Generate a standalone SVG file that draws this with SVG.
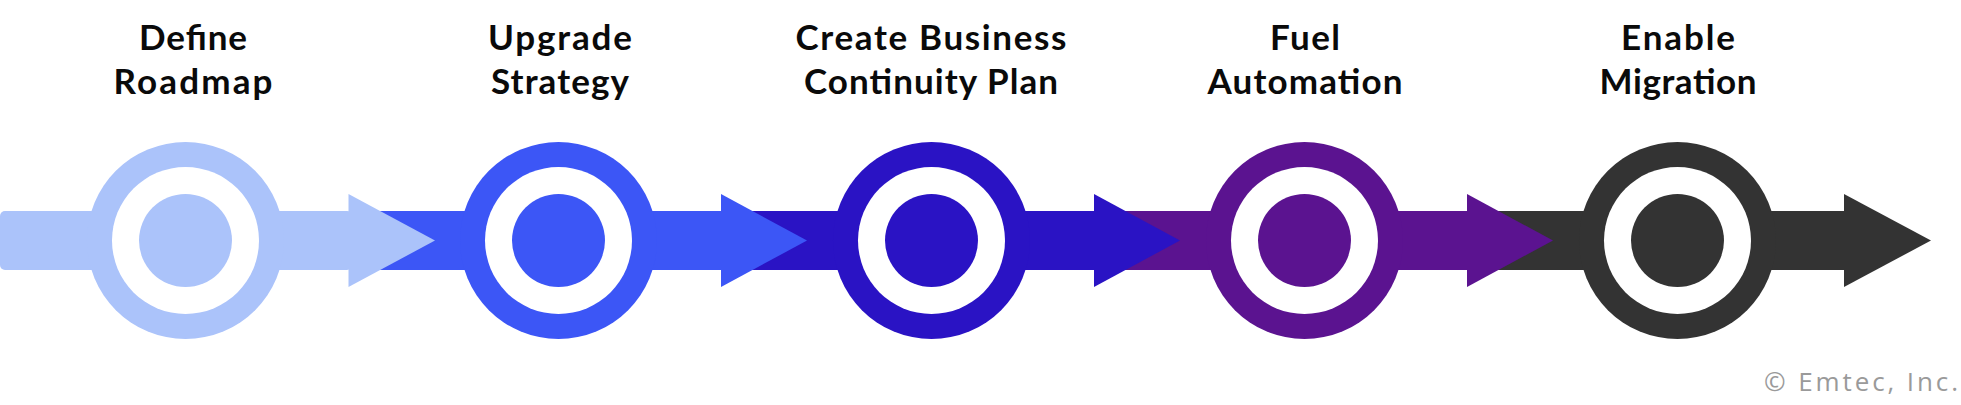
<svg xmlns="http://www.w3.org/2000/svg" width="1961" height="405" viewBox="0 0 1961 405">
  <style>
    .lbl { font-family: Lato, "Liberation Sans", Arial, sans-serif; font-weight: 700; font-size: 35px; fill: #0a0a0a; text-anchor: middle; }
    .copy { font-family: "Open Sans", "Liberation Sans", Arial, sans-serif; font-weight: 400; font-size: 26px; fill: #9a9a9a; }
    .hole { fill: #ffffff; }
    .c1 { fill: #ABC3FA; }
    .c2 { fill: #3C56F6; }
    .c3 { fill: #2A13C4; }
    .c4 { fill: #5B1390; }
    .c5 { fill: #333333; }
  </style>
  <rect width="1961" height="405" fill="#ffffff"/>
  <g id="connectors">
    <g id="seg5" class="c5">
      <rect x="1490" y="211" width="356" height="59"/>
      <polygon points="1844,194 1931,240.5 1844,287"/>
    </g>
    <g id="seg4" class="c4">
      <rect x="1116" y="211" width="353" height="59"/>
      <polygon points="1467,194 1553,240.5 1467,287"/>
    </g>
    <g id="seg3" class="c3">
      <rect x="743" y="211" width="353" height="59"/>
      <polygon points="1094,194 1180,240.5 1094,287"/>
    </g>
    <g id="seg2" class="c2">
      <rect x="370" y="211" width="353" height="59"/>
      <polygon points="721,194 807,240.5 721,287"/>
    </g>
    <g id="seg1" class="c1">
      <rect x="0" y="211" width="352" height="59" rx="5"/>
      <polygon points="348.5,194 435,240.5 348.5,287"/>
    </g>
  </g>
  <g id="node1">
    <circle class="c1" cx="185.5" cy="240.5" r="98.5"/>
    <circle class="hole" cx="185.5" cy="240.5" r="73.5"/>
    <circle class="c1" cx="185.5" cy="240.5" r="46.5"/>
    <text class="lbl" x="193" y="49.5" textLength="108" lengthAdjust="spacing">Define</text>
    <text class="lbl" x="193" y="93.5" textLength="159" lengthAdjust="spacing">Roadmap</text>
  </g>
  <g id="node2">
    <circle class="c2" cx="558.5" cy="240.5" r="98.5"/>
    <circle class="hole" cx="558.5" cy="240.5" r="73.5"/>
    <circle class="c2" cx="558.5" cy="240.5" r="46.5"/>
    <text class="lbl" x="560" y="49.5" textLength="144" lengthAdjust="spacing">Upgrade</text>
    <text class="lbl" x="560" y="93.5" textLength="138" lengthAdjust="spacing">Strategy</text>
  </g>
  <g id="node3">
    <circle class="c3" cx="931.5" cy="240.5" r="98.5"/>
    <circle class="hole" cx="931.5" cy="240.5" r="73.5"/>
    <circle class="c3" cx="931.5" cy="240.5" r="46.5"/>
    <text class="lbl" x="931" y="49.5" textLength="271" lengthAdjust="spacing">Create Business</text>
    <text class="lbl" x="931" y="93.5" textLength="254" lengthAdjust="spacing">Continuity Plan</text>
  </g>
  <g id="node4">
    <circle class="c4" cx="1304.5" cy="240.5" r="98.5"/>
    <circle class="hole" cx="1304.5" cy="240.5" r="73.5"/>
    <circle class="c4" cx="1304.5" cy="240.5" r="46.5"/>
    <text class="lbl" x="1305" y="49.5" textLength="70" lengthAdjust="spacing">Fuel</text>
    <text class="lbl" x="1305" y="93.5" textLength="195" lengthAdjust="spacing">Automation</text>
  </g>
  <g id="node5">
    <circle class="c5" cx="1677.5" cy="240.5" r="98.5"/>
    <circle class="hole" cx="1677.5" cy="240.5" r="73.5"/>
    <circle class="c5" cx="1677.5" cy="240.5" r="46.5"/>
    <text class="lbl" x="1678" y="49.5" textLength="114" lengthAdjust="spacing">Enable</text>
    <text class="lbl" x="1678" y="93.5" textLength="157" lengthAdjust="spacing">Migration</text>
  </g>
  <text class="copy" x="1764" y="391" textLength="194" lengthAdjust="spacing">© Emtec, Inc.</text>
</svg>
